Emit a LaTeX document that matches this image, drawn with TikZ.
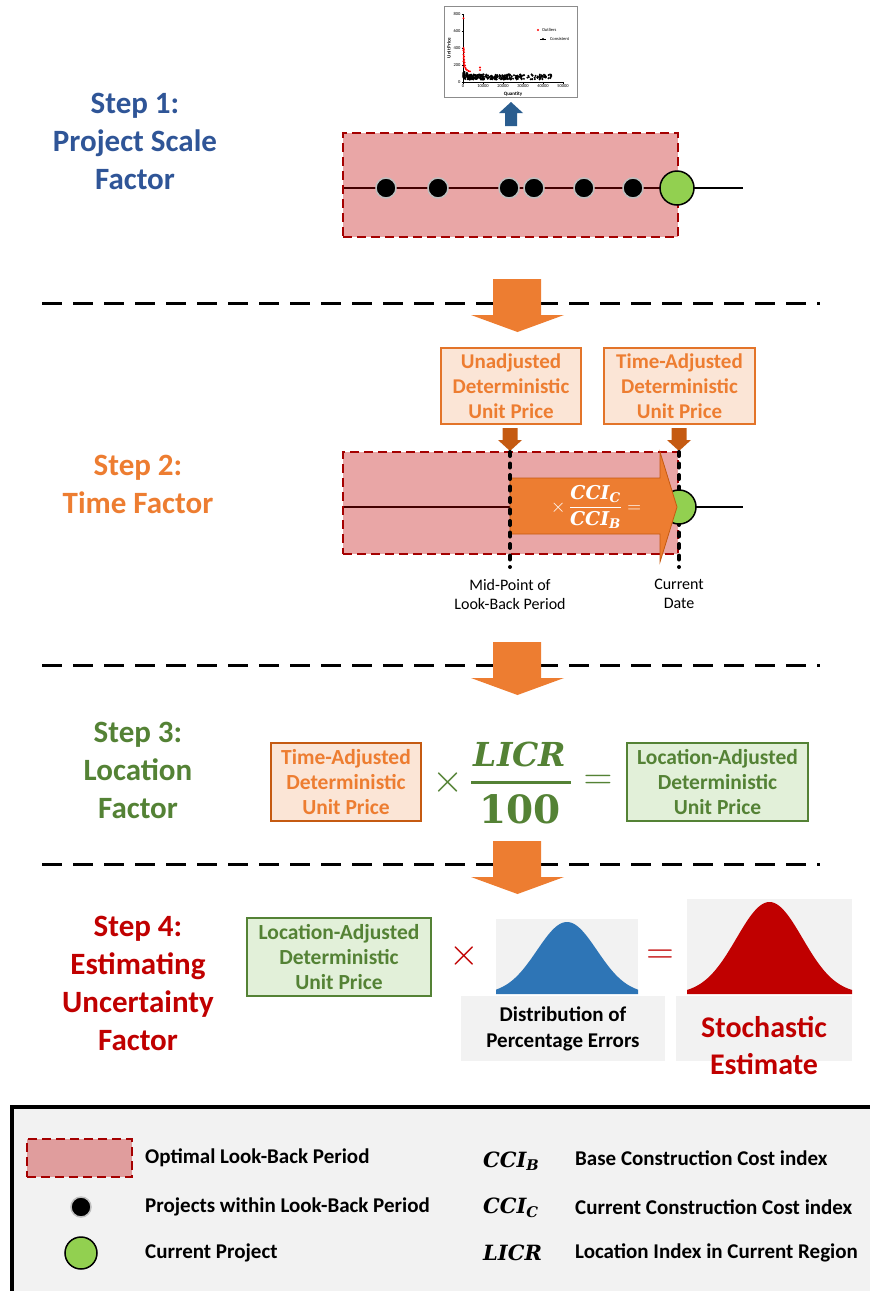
\RequirePackage{fix-cm}
\documentclass[tikz,border=0pt]{standalone}
\usepackage[no-math]{fontspec}
\setmainfont{Carlito}
\newfontfamily\eqfont{DejaVu Serif}
\usepackage{amsmath}
\usetikzlibrary{calc}

\newcommand\fs[2]{\fontsize{#1}{#2}\selectfont}
% bold italic serif symbols used in the formulas
\newcommand\eqv[1]{\text{\eqfont\bfseries\itshape #1}}
\newcommand\idx[2]{\eqv{#1}_{\eqv{#2}}}

\definecolor{stepblue}{HTML}{2F5597}
\definecolor{steporange}{HTML}{ED7D31}
\definecolor{darkorange}{HTML}{C55A11}
\definecolor{stepgreen}{HTML}{548235}
\definecolor{stepred}{HTML}{C00000}
\definecolor{lightorange}{HTML}{FBE5D6}
\definecolor{lightgreen}{HTML}{E2F0D9}
\definecolor{panelgray}{HTML}{F2F2F2}
\definecolor{greenball}{HTML}{92D050}
\definecolor{periodedge}{HTML}{A50000}
\definecolor{arrowblue}{HTML}{2A5D8F}
\definecolor{bellblue}{HTML}{2E75B6}

\tikzset{
  steplabel/.style={align=center, font=\bfseries\fs{31}{38}},
  period/.style={fill=stepred, fill opacity=0.35, draw=periodedge, draw opacity=1,
    line width=1.8pt, dash pattern=on 9pt off 5pt, inner sep=0pt},
  pastdot/.style={circle, fill=black, draw=black!25, line width=1.5pt,
    minimum size=20pt, inner sep=0pt},
  nowdot/.style={circle, fill=greenball, draw=black, line width=1.5pt,
    minimum size=34pt, inner sep=0pt},
  timeline/.style={line width=2pt, black},
  stepsep/.style={line width=3pt, dash pattern=on 20pt off 11pt},
  flowarrow/.style={fill=steporange, draw=none},
  markline/.style={line width=4pt, line cap=round, dash pattern=on 4pt off 7.5pt},
  pointer/.style={fill=darkorange, draw=none},
  pricebox/.style={line width=1.5pt, align=center, inner sep=0pt, font=\bfseries\fs{21}{25}},
  obox/.style={pricebox, draw=steporange!75!darkorange, fill=lightorange, text=steporange},
  gbox/.style={pricebox, draw=stepgreen, fill=lightgreen, text=stepgreen},
  legtext/.style={anchor=west, font=\bfseries\fs{21}{24}, inner sep=0pt},
  legmath/.style={anchor=west, font=\fs{21}{21}, inner sep=0pt},
  tick/.style={font=\fs{4.5}{5}, inner sep=0.8pt},
}

\begin{document}
\begin{tikzpicture}[x=1pt, y=-1pt]
\useasboundingbox (0,0) rectangle (870,1291);

% ---------- step labels ----------
\node[steplabel, text=stepblue]   (s1) at (135,141) {Step 1:\\Project Scale\\Factor};
\node[steplabel, text=steporange] (s2) at (138,484) {Step 2:\\Time Factor};
\node[steplabel, text=stepgreen]  (s3) at (138,770) {Step 3:\\Location\\Factor};
\node[steplabel, text=stepred]    (s4) at (138,983) {Step 4:\\Estimating\\Uncertainty\\Factor};

% ---------- scatter chart ----------
\node[draw=black!45, fill=white, line width=0.6pt, minimum width=133pt,
      minimum height=91pt, inner sep=0pt] (chart) at (510.5,51.5) {};
\draw[line width=0.6pt] (463,14) -- (463,82) -- (563,82);
\foreach \v/\yy in {0/82,200/65,400/48,600/31,800/14}{
  \draw[line width=0.5pt] (461.5,\yy) -- (463,\yy);
  \node[tick, anchor=east] at (461.5,\yy) {\v};
}
\foreach \q/\xx in {0/463,10000/483,20000/503,30000/523,40000/543,50000/563}{
  \draw[line width=0.5pt] (\xx,82) -- (\xx,83.5);
  \node[tick, anchor=north] at (\xx,83.5) {\q};
}
\node[font=\bfseries\fs{5}{6}, inner sep=0pt] at (513,94.5) {Quantity};
\node[font=\bfseries\fs{5}{6}, inner sep=0pt, rotate=90] at (449,48) {Unit Price};
\pgfmathsetseed{11}
\foreach \i in {1,...,300}{
  \pgfmathsetmacro\px{463.5+89*rnd^1.7}
  \pgfmathsetmacro\py{82-(30+60*rnd+40*rnd*(\px<468))*0.085}
  \fill[black] (\px,\py) circle (1.1);
}
\foreach \qx/\vv in {463.5/750,463.5/400,463.8/385,463.5/370,464/350,463.5/320,
  464/300,463.6/280,464.2/260,463.5/245,464.5/230,463.8/210,465/195,464/180,
  465.5/165,466/150,467/140,468.5/130,470/125,480/170,480/140}{
  \fill[red] (\qx,{82-\vv*0.085}) circle (1.1);
}
\fill[red] (538,30) circle (1.1);
\node[tick, anchor=west, font=\fs{4.5}{5}] at (541,30) {Outliers};
\draw[line width=0.5pt] (540,39) -- (546,39);
\fill[black] (543,39) circle (1.1);
\node[tick, anchor=west, font=\fs{4.5}{5}] at (549,39) {Consistent};

% arrow from the timeline up to the chart
\path[fill=arrowblue] (505,126) -- (505,113) -- (499,113) -- (511,102)
  -- (523,113) -- (517,113) -- (517,126) -- cycle;

% ---------- step 1 timeline ----------
\coordinate (t1a) at (343,188);
\coordinate (t1b) at (743,188);
\draw[timeline] (t1a) -- (t1b);
\node[period, minimum width=335pt, minimum height=104pt] (p1) at (510.5,185) {};
\foreach \xx [count=\k] in {386,438,509,534,584,633}
  \node[pastdot] (d\k) at (\xx,188) {};
\node[nowdot] (now1) at (677,188) {};

% ---------- separators and flow arrows ----------
\foreach \yy in {303,665,864}
  \draw[stepsep] (42,\yy) -- (820,\yy);
\foreach \t in {279,642,841}
  \path[flowarrow] (493,\t) -- (541,\t) -- (541,{\t+36}) -- (564,{\t+36})
    -- (517.5,{\t+53}) -- (471,{\t+36}) -- (493,{\t+36}) -- cycle;

% ---------- step 2 ----------
\node[obox, minimum width=140pt, minimum height=76pt] (ua) at (511,386)
  {Unadjusted\\Deterministic\\Unit Price};
\node[obox, minimum width=151pt, minimum height=76pt] (ta) at (679.5,386)
  {Time-Adjusted\\Deterministic\\Unit Price};
\foreach \cx in {510,679}
  \path[pointer] ({\cx-7.5},428) -- ({\cx+7.5},428) -- ({\cx+7.5},440)
    -- ({\cx+12},440) -- (\cx,451) -- ({\cx-12},440) -- ({\cx-7.5},440) -- cycle;

\coordinate (t2a) at (343,507);
\coordinate (t2b) at (743,507);
\draw[timeline] (t2a) -- (t2b);
\node[period, minimum width=335pt, minimum height=102pt] (p2) at (510.5,503) {};
\coordinate (mid top) at (510,452);
\coordinate (mid bot) at (510,567);
\coordinate (cur top) at (679,452);
\coordinate (cur bot) at (679,567);
\draw[markline] (cur top) -- (cur bot);
\node[nowdot] (now2) at (679,507) {};
\path[fill=steporange, draw=darkorange, line width=0.8pt]
  (510,478) -- (660,478) -- (660,452) -- (677,507) -- (660,562) -- (660,534)
  -- (510,534) -- cycle;
\draw[markline] (mid top) -- (mid bot);
\node[text=white, font=\fs{19}{22}, inner sep=0pt] (ratio) at (596,507)
  {$\times\,\dfrac{\idx{CCI}{C}}{\idx{CCI}{B}}=$};
\node[align=center, font=\fs{16}{19}] (midlbl) at (510,594)
  {Mid-Point of\\Look-Back Period};
\node[align=center, font=\fs{16}{19}] (curlbl) at (679,594) {Current\\Date};

% ---------- step 3 ----------
\node[obox, draw=darkorange, font=\bfseries\fs{21.5}{25}, minimum width=150pt,
      minimum height=78pt] (ta3) at (346,782) {Time-Adjusted\\Deterministic\\Unit Price};
\node[text=stepgreen, font=\fs{40}{40}, inner sep=0pt] (times3) at (448,782) {$\times$};
\node[text=stepgreen, font=\eqfont\bfseries\itshape\fs{33}{33}, inner sep=0pt] (licr)
  at (520,754) {LICR};
\draw[stepgreen, line width=3pt] (471,782) -- (571,782);
\node[text=stepgreen, font=\eqfont\bfseries\fs{39}{39}, inner sep=0pt] (hundred)
  at (520,809) {100};
\node[text=stepgreen, font=\fs{40}{40}, inner sep=0pt] (eq3) at (598,782) {$=$};
\node[gbox, font=\bfseries\fs{21.5}{25}, minimum width=181pt, minimum height=78pt]
  (la3) at (717.5,782) {Location-Adjusted\\Deterministic\\Unit Price};

% ---------- step 4 ----------
\node[gbox, font=\bfseries\fs{21.5}{25}, minimum width=184pt, minimum height=78pt]
  (la4) at (339,957) {Location-Adjusted\\Deterministic\\Unit Price};
\node[text=stepred, font=\fs{38}{38}, inner sep=0pt] (times4) at (464,956) {$\times$};
\fill[panelgray] (496,919) rectangle (638,994);
\fill[bellblue] (496,994) -- plot[domain=496:638, samples=90, smooth]
  (\x,{994-72*exp(-((\x-567)^2)/(2*30^2))}) -- (638,994) -- cycle;
\node[fill=panelgray, minimum width=204pt, minimum height=65pt, inner sep=0pt,
      align=center, font=\bfseries\fs{21}{26}] (errs) at (563,1028.5)
  {Distribution of\\Percentage Errors};
\node[text=stepred, font=\fs{38}{38}, inner sep=0pt] (eq4) at (660,957) {$=$};
\fill[panelgray] (687,899) rectangle (852,994);
\fill[stepred] (687,994) -- plot[domain=687:852, samples=90, smooth]
  (\x,{994-92*exp(-((\x-769.5)^2)/(2*33^2))}) -- (852,994) -- cycle;
\node[fill=panelgray, minimum width=176pt, minimum height=65pt, inner sep=0pt] (estbg)
  at (764,1028.5) {};
\node[align=center, text=stepred, font=\bfseries\fs{30}{37}] (est) at (764,1046)
  {Stochastic\\Estimate};

% ---------- legend ----------
\node[draw=black, fill=panelgray, line width=4pt, minimum width=875pt,
      minimum height=200pt, inner sep=0pt, anchor=north west] (legend) at (10,1105) {};
\node[period, minimum width=105pt, minimum height=38pt] (lp) at (79.5,1158) {};
\node[legtext] (lpt) at (145,1158) {Optimal Look-Back Period};
\node[pastdot] (ld) at (81,1207) {};
\node[legtext] (ldt) at (145,1207) {Projects within Look-Back Period};
\node[nowdot, minimum size=32pt] (lg) at (81,1253) {};
\node[legtext] (lgt) at (145,1253) {Current Project};
\node[legmath] (lb) at (483,1161) {$\idx{CCI}{B}$};
\node[legtext] (lbt) at (575,1158) {Base Construction Cost index};
\node[legmath] (lc) at (483,1208) {$\idx{CCI}{C}$};
\node[legtext] (lct) at (575,1207) {Current Construction Cost index};
\node[legmath] (ll) at (483,1253) {$\eqv{LICR}$};
\node[legtext] (llt) at (575,1253) {Location Index in Current Region};
\end{tikzpicture}
\end{document}
